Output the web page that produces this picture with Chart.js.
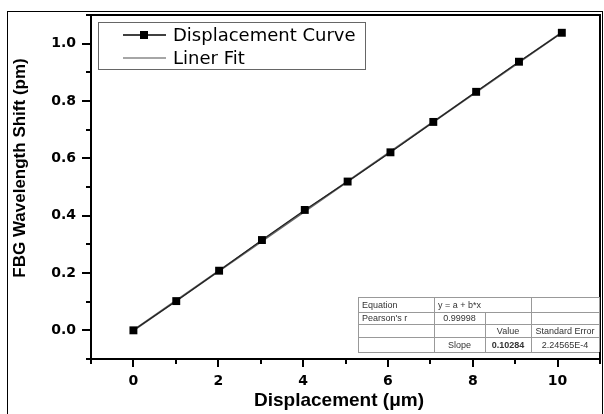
<!DOCTYPE html>
<html>
<head>
<meta charset="utf-8">
<script src="https://cdn.jsdelivr.net/npm/chart.js@4.4.1/dist/chart.umd.min.js"></script>
<style>
  html, body { margin: 0; padding: 0; background: #fff; }
  canvas { display: block; }
</style>
</head>
<body>
<canvas id="chart" width="604" height="414"></canvas>
<script>
// measured points (displacement in um, wavelength shift in pm)
const displacement = [0, 1.01, 2.02, 3.03, 4.04, 5.05, 6.06, 7.07, 8.08, 9.09, 10.1];
const wavelengthShift = [0, 0.102, 0.208, 0.315, 0.420, 0.519, 0.621, 0.727, 0.832, 0.937, 1.038];

// linear fit end points
const fitX = [0, 10.1];
const fitY = [0, 1.039];

const xMajorTicks = [0, 2, 4, 6, 8, 10];
const xMinorTicks = [-1, 1, 3, 5, 7, 9, 11];
const yMajorTicks = [0, 0.2, 0.4, 0.6, 0.8, 1.0];
const yMinorTicks = [-0.1, 0.1, 0.3, 0.5, 0.7, 0.9, 1.1];
const xTickLabels = ['0', '2', '4', '6', '8', '10'];
const yTickLabels = ['0.0', '0.2', '0.4', '0.6', '0.8', '1.0'];

const seriesNames = ['Displacement Curve', 'Liner Fit'];

// fit statistics box
const fitTable = [
  ['Equation', 'y = a + b*x', '', ''],
  ["Pearson's r", '0.99998', '', ''],
  ['', '', 'Value', 'Standard Error'],
  ['', 'Slope', '0.10284', '2.24565E-4']
];

const extras = {
  id: 'extras',
  afterDraw(chart) {
    const ctx = chart.ctx;
    const a = chart.chartArea;
    const xs = chart.scales.x, ys = chart.scales.y;
    ctx.save();

    // outer border
    ctx.strokeStyle = '#000';
    ctx.lineWidth = 1;
    ctx.strokeRect(7.5, 11.5, 595, 410);

    // plot frame
    ctx.lineWidth = 2;
    ctx.strokeRect(a.left, a.top, a.right - a.left, a.bottom - a.top);

    // ticks (outward)
    ctx.lineWidth = 2;
    ctx.beginPath();
    xMajorTicks.forEach(v => { const p = Math.round(xs.getPixelForValue(v)); ctx.moveTo(p, a.bottom); ctx.lineTo(p, a.bottom + 8); });
    xMinorTicks.forEach(v => { const p = Math.round(xs.getPixelForValue(v)); ctx.moveTo(p, a.bottom); ctx.lineTo(p, a.bottom + 5); });
    yMajorTicks.forEach(v => { const p = Math.round(ys.getPixelForValue(v)); ctx.moveTo(a.left, p); ctx.lineTo(a.left - 9, p); });
    yMinorTicks.forEach(v => { const p = Math.round(ys.getPixelForValue(v)); ctx.moveTo(a.left, p); ctx.lineTo(a.left - 5, p); });
    ctx.stroke();

    // axis titles
    ctx.fillStyle = '#000';
    ctx.textAlign = 'center';
    ctx.textBaseline = 'middle';
    ctx.font = 'bold 19px "Liberation Sans", Arial, sans-serif';
    ctx.fillText('Displacement (\u03bcm)', 339, 401);
    ctx.save();
    ctx.translate(20, 168);
    ctx.rotate(-Math.PI / 2);
    ctx.font = 'bold 17px "Liberation Sans", Arial, sans-serif';
    ctx.fillText('FBG Wavelength Shift (pm)', 0, 0);
    ctx.restore();

    // legend box
    ctx.strokeStyle = '#666';
    ctx.lineWidth = 1;
    ctx.strokeRect(98.5, 22.5, 267, 47);
    const legendY = [35, 58];
    const legendColors = ['#000', '#888'];
    seriesNames.forEach((name, i) => {
      ctx.strokeStyle = legendColors[i];
      ctx.lineWidth = 1.5;
      ctx.beginPath();
      ctx.moveTo(123, legendY[i]);
      ctx.lineTo(166, legendY[i]);
      ctx.stroke();
      if (i === 0) {
        ctx.fillStyle = '#000';
        ctx.fillRect(140, legendY[i] - 4, 8, 8);
      }
      ctx.fillStyle = '#000';
      ctx.textAlign = 'left';
      ctx.textBaseline = 'middle';
      ctx.font = '18px "DejaVu Sans", sans-serif';
      ctx.fillText(name, 173, legendY[i] + 1);
    });

    // statistics table
    const colX = [358, 434, 485, 531, 599];
    const rowY = [297, 312, 324, 337, 352];
    ctx.fillStyle = '#fff';
    ctx.fillRect(colX[0], rowY[0], colX[4] - colX[0], rowY[4] - rowY[0]);
    ctx.strokeStyle = '#999';
    ctx.lineWidth = 1;
    ctx.beginPath();
    rowY.forEach(y => { ctx.moveTo(colX[0], y + 0.5); ctx.lineTo(colX[4], y + 0.5); });
    ctx.moveTo(colX[0] + 0.5, rowY[0]); ctx.lineTo(colX[0] + 0.5, rowY[4]);
    ctx.moveTo(colX[1] + 0.5, rowY[0]); ctx.lineTo(colX[1] + 0.5, rowY[4]);
    ctx.moveTo(colX[2] + 0.5, rowY[1]); ctx.lineTo(colX[2] + 0.5, rowY[4]);
    ctx.moveTo(colX[3] + 0.5, rowY[0]); ctx.lineTo(colX[3] + 0.5, rowY[4]);
    ctx.moveTo(colX[4] + 0.5, rowY[0]); ctx.lineTo(colX[4] + 0.5, rowY[4]);
    ctx.stroke();
    ctx.fillStyle = '#333';
    ctx.textBaseline = 'middle';
    fitTable.forEach((row, r) => {
      const cy = (rowY[r] + rowY[r + 1]) / 2 + 1;
      row.forEach((txt, c) => {
        if (!txt) return;
        ctx.font = (r === 3 && c === 2 ? 'bold ' : '') + '9px "Liberation Sans", Arial, sans-serif';
        if (c === 0 || (r === 0 && c === 1)) {
          ctx.textAlign = 'left';
          ctx.fillText(txt, colX[c] + 4, cy);
        } else {
          ctx.textAlign = 'center';
          ctx.fillText(txt, (colX[c] + colX[c + 1]) / 2, cy);
        }
      });
    });

    ctx.restore();
  }
};

new Chart(document.getElementById('chart'), {
  type: 'line',
  data: {
    datasets: [
      {
        label: seriesNames[0],
        data: displacement.map((x, i) => ({ x: x, y: wavelengthShift[i] })),
        borderColor: '#222',
        borderWidth: 1.2,
        backgroundColor: '#000',
        pointStyle: 'rect',
        pointRadius: 5.6,
        pointBorderWidth: 0,
        pointBackgroundColor: '#000',
        fill: false
      },
      {
        label: seriesNames[1],
        data: fitX.map((x, i) => ({ x: x, y: fitY[i] })),
        borderColor: '#666',
        borderWidth: 2,
        pointRadius: 0,
        fill: false
      }
    ]
  },
  options: {
    responsive: false,
    animation: false,
    devicePixelRatio: 1,
    layout: { autoPadding: false, padding: { top: 15, right: 4, left: 0, bottom: 0 } },
    plugins: { legend: { display: false }, tooltip: { enabled: false } },
    scales: {
      x: {
        type: 'linear',
        min: -1,
        max: 11,
        afterBuildTicks: (scale) => { scale.ticks = xMajorTicks.map(v => ({ value: v })); },
        afterFit: (scale) => { scale.height = 55; scale.paddingLeft = 0; scale.paddingRight = 0; },
        ticks: {
          callback: (v, i) => xTickLabels[i],
          color: '#000',
          font: { family: '"DejaVu Sans", sans-serif', size: 14, weight: 'bold' },
          padding: 14,
          maxRotation: 0
        },
        grid: { display: false, drawTicks: false },
        border: { display: false }
      },
      y: {
        type: 'linear',
        min: -0.1,
        max: 1.1,
        afterBuildTicks: (scale) => { scale.ticks = yMajorTicks.map(v => ({ value: v })); },
        afterFit: (scale) => { scale.width = 91; scale.paddingTop = 0; scale.paddingBottom = 0; },
        ticks: {
          callback: (v, i) => yTickLabels[i],
          color: '#000',
          font: { family: '"DejaVu Sans", sans-serif', size: 14, weight: 'bold' },
          padding: 15
        },
        grid: { display: false, drawTicks: false },
        border: { display: false }
      }
    }
  },
  plugins: [extras]
});
</script>
</body>
</html>
